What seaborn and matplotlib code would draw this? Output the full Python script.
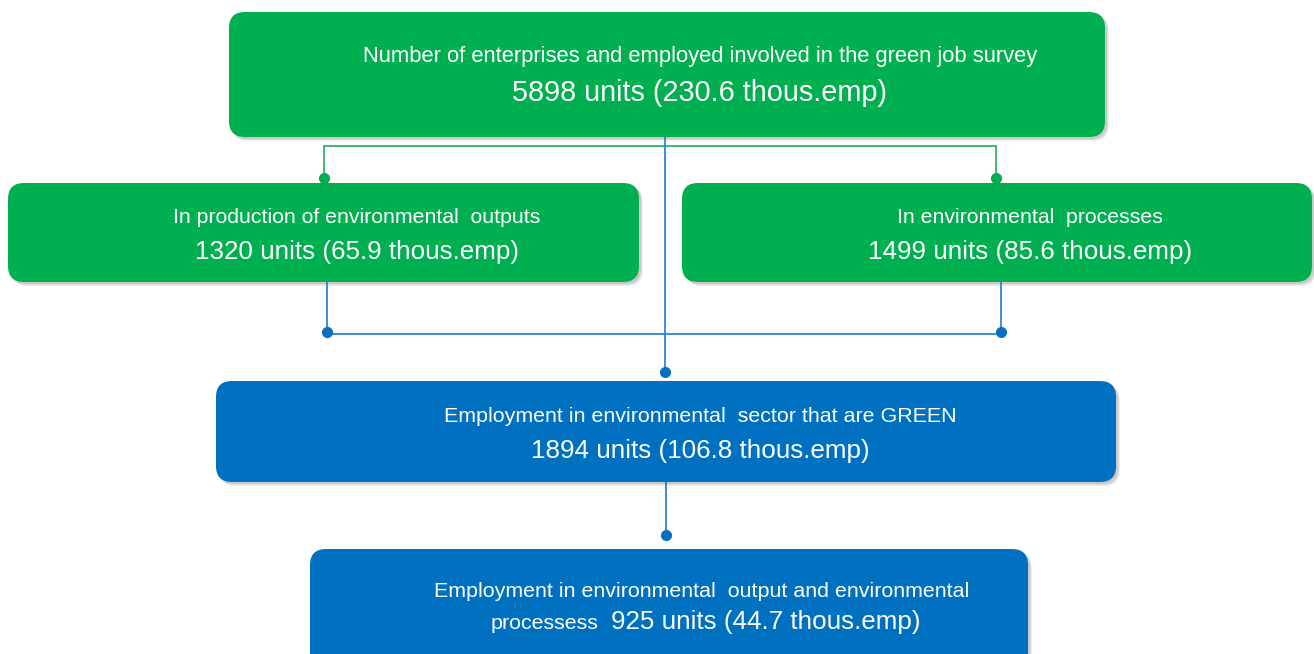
import seaborn as sns
import matplotlib
matplotlib.use("Agg")
from matplotlib import pyplot as plt
from matplotlib.patches import FancyBboxPatch

sns.set_theme(style="white")
plt.rcParams['font.family'] = ['Liberation Sans', 'DejaVu Sans']

# chart content
titles = ["Number of enterprises and employed involved in the green job survey",
          "In production of environmental  outputs",
          "In environmental  processes",
          "Employment in environmental  sector that are GREEN",
          "Employment in environmental  output and environmental"]
units = [5898, 1320, 1499, 1894, 925]
thous_emp = [230.6, 65.9, 85.6, 106.8, 44.7]
box_colors = ["#00AF50", "#00AF50", "#00AF50", "#0070C0", "#0070C0"]

# layout (pixels): x0, y0, x1, y1
boxes = [(229, 12, 1105, 137), (8, 183, 639, 282), (682, 183, 1312, 282),
         (216, 381, 1116, 482), (310, 549, 1028, 670)]
text_x = [700, 357, 1030, 700, 702]
line1_y = [62, 223, 223, 422, 597]
line2_y = [101, 259, 259, 458, 629]
size1 = [15.8, 15.3, 15.3, 15.4, 15.4]
size2 = [20.8, 18.7, 18.7, 18.7, 18.7]

fig = plt.figure(figsize=(13.14, 6.54), dpi=100)
ax = fig.add_axes([0, 0, 1, 1])
ax.set_xlim(0, 1314)
ax.set_ylim(654, 0)
ax.axis('off')

green_line = "#2DB863"
blue_line = "#2F86D2"
dot_c = "#0A6FC2"

# connectors
ax.plot([324, 996], [146, 146], color=green_line, lw=1.3, zorder=1)
ax.plot([324, 324], [146, 178], color=green_line, lw=1.3, zorder=1)
ax.plot([996, 996], [146, 178], color=green_line, lw=1.3, zorder=1)
ax.plot([324, 996], [178, 178], 'o', color="#00AF50", ms=7, zorder=2)
ax.plot([665, 665], [137, 372], color=blue_line, lw=1.3, zorder=1)
ax.plot([327, 1001], [334, 334], color=blue_line, lw=1.3, zorder=1)
ax.plot([327, 327], [282, 332], color=blue_line, lw=1.3, zorder=1)
ax.plot([1001, 1001], [282, 332], color=blue_line, lw=1.3, zorder=1)
ax.plot([666, 666], [482, 535], color=blue_line, lw=1.3, zorder=1)
ax.plot([327, 1001, 665, 666], [332, 332, 372, 535], 'o', color=dot_c, ms=7, zorder=2)

for i, (x0, y0, x1, y1) in enumerate(boxes):
    # soft drop shadow
    for k, a in [(4, 0.10), (3, 0.12), (2, 0.15)]:
        sh = FancyBboxPatch((x0 + k, y0 + k), x1 - x0, y1 - y0,
                            boxstyle="round,pad=0,rounding_size=16",
                            fc="#606060", ec="none", alpha=a, zorder=3)
        ax.add_patch(sh)
    p = FancyBboxPatch((x0, y0), x1 - x0, y1 - y0,
                       boxstyle="round,pad=0,rounding_size=16",
                       fc=box_colors[i], ec="none", zorder=4)
    ax.add_patch(p)
    ax.text(text_x[i], line1_y[i], titles[i], color="white", fontsize=size1[i],
            ha="center", va="baseline", zorder=5)
    val = f"{units[i]} units ({thous_emp[i]} thous.emp)"
    if i == 4:
        ax.text(598, line2_y[i], "processess", color="white", fontsize=size1[i],
                ha="right", va="baseline", zorder=5)
        ax.text(611, line2_y[i], val, color="white", fontsize=size2[i],
                ha="left", va="baseline", zorder=5)
    else:
        ax.text(text_x[i], line2_y[i], val, color="white", fontsize=size2[i],
                ha="center", va="baseline", zorder=5)

plt.savefig('out.png', dpi=100)
